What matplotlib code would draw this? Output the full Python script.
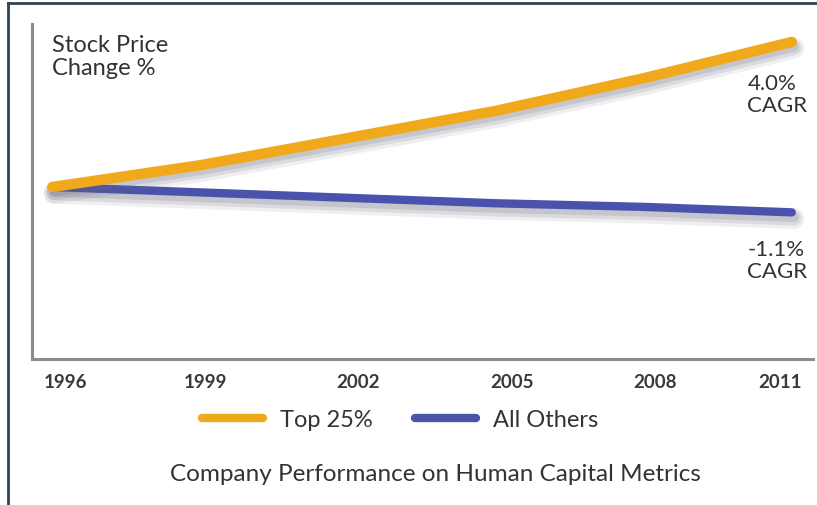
import matplotlib
matplotlib.use("Agg")
import matplotlib.pyplot as plt
import matplotlib.patheffects as pe
import matplotlib.transforms as mtransforms
from matplotlib.lines import Line2D

plt.rcParams['font.family'] = ['Lato', 'DejaVu Sans']

years = [1996, 1999, 2002, 2005, 2008, 2011]
top25 = [100, 112, 127, 142, 160, 180]
others = [100, 97, 94, 91, 89, 86]

orange = '#F0A91A'
blue = '#4A52AE'
text_col = '#333333'


def shadow():
    return [pe.SimpleLineShadow(offset=(1.5, -4.5), shadow_color='#666677', alpha=0.10, linewidth=15),
            pe.SimpleLineShadow(offset=(1.5, -4), shadow_color='#666677', alpha=0.14, linewidth=11),
            pe.SimpleLineShadow(offset=(1.5, -3.5), shadow_color='#666677', alpha=0.18, linewidth=7),
            pe.Normal()]


fig = plt.figure(figsize=(8.17, 5.06), dpi=100)
ax = fig.add_axes([32 / 817, 1 - 360 / 506, (813 - 32) / 817, (360 - 25) / 506])

ax.plot(years, others, color=blue, lw=6, solid_capstyle='round', path_effects=shadow(), zorder=3)
ax.plot(years, top25, color=orange, lw=7.5, solid_capstyle='round', path_effects=shadow(), zorder=4)

ax.set_xlim(1995.59, 2011.43)
ax.set_ylim(5.1, 189.9)
ax.set_xticks(years)
ax.set_xticklabels([str(y) for y in years], fontsize=13.5, fontweight='bold', color='#3a3a3a')
ax.tick_params(axis='x', length=0, pad=10)
ax.set_yticks([])
# nudge tick labels like in the original artwork
nudges = [13, 5, 10, 16, 11, -12]
for lbl, dx in zip(ax.get_xticklabels(), nudges):
    lbl.set_transform(lbl.get_transform() + mtransforms.ScaledTranslation(dx / 100, 0, fig.dpi_scale_trans))
for s in ['top', 'right']:
    ax.spines[s].set_visible(False)
for s in ['left', 'bottom']:
    ax.spines[s].set_color('#8c8c8c')
    ax.spines[s].set_linewidth(2.2)

# end labels
ax.annotate('4.0%\nCAGR', xy=(years[-1], top25[-1]), xytext=(-32, -22), textcoords='offset points',
            fontsize=16, color=text_col, va='top', ha='left', linespacing=1.15)
ax.annotate('-1.1%\nCAGR', xy=(years[-1], others[-1]), xytext=(-32, -19), textcoords='offset points',
            fontsize=16, color=text_col, va='top', ha='left', linespacing=1.15)

fig.text(52 / 817, 1 - 35 / 506, 'Stock Price\nChange %', fontsize=17, color=text_col,
         va='top', ha='left', linespacing=1.12)

handles = [Line2D([], [], color=orange, lw=6, solid_capstyle='round'),
           Line2D([], [], color=blue, lw=6, solid_capstyle='round')]
fig.legend(handles, ['Top 25%', 'All Others'], loc='center', bbox_to_anchor=(400 / 817, 1 - 421 / 506),
           ncol=2, frameon=False, fontsize=17, handlelength=2.6, handletextpad=0.7,
           columnspacing=1.8, labelcolor=text_col)

fig.text(435 / 817, 1 - 475 / 506, 'Company Performance on Human Capital Metrics', fontsize=17.5,
         color=text_col, ha='center', va='center')

# frame border (top and left)
fig.add_artist(Line2D([8 / 817, 1], [1 - 4 / 506, 1 - 4 / 506], color='#2c4654', lw=2,
                      transform=fig.transFigure))
fig.add_artist(Line2D([8 / 817, 8 / 817], [0, 1 - 4 / 506], color='#2c4654', lw=2,
                      transform=fig.transFigure))

fig.savefig('out.png', dpi=100)
